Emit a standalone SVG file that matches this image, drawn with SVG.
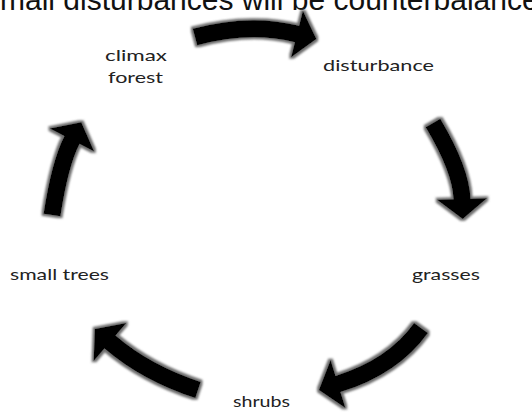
<svg xmlns="http://www.w3.org/2000/svg" width="532" height="418" viewBox="0 0 532 418">
<style>
.lbl{font-family:Lato,"Open Sans","Liberation Sans",sans-serif;font-size:16px;fill:#222}
.title{font-family:"Liberation Sans",Arial,sans-serif;font-size:30px;fill:#111}
.shaft{fill:none;stroke:#000;stroke-width:17;stroke-linecap:butt}
.head{fill:#000}
</style>
<defs>
<filter id="halo" x="-20%" y="-20%" width="140%" height="140%">
<feMorphology in="SourceAlpha" operator="dilate" radius="2" result="d"/>
<feGaussianBlur in="d" stdDeviation="1" result="b"/>
<feFlood flood-color="#6e6e6e"/>
<feComposite in2="b" operator="in" result="g"/>
<feMerge><feMergeNode in="g"/><feMergeNode in="SourceGraphic"/></feMerge>
</filter>
</defs>
<rect width="532" height="418" fill="#fff"/>
<text id="title" class="title" x="-15" y="10">small disturbances will be counterbalanced</text>
<g id="connectors" filter="url(#halo)">
<g id="a1"><path class="shaft" d="M195,37 Q250,22 297,34 L299.9,34.7"/><polygon class="head" points="302.9,10.7 316.4,38.9 291.1,57.3"/></g>
<g id="a2"><path class="shaft" d="M433,123 Q461,170 462,199 L462.1,202"/><polygon class="head" points="487,198.2 462.7,219 437,199.8"/></g>
<g id="a3"><path class="shaft" d="M421,328 Q393,367 338,384 L335.1,384.9"/><polygon class="head" points="345.4,407.9 318.9,389.9 330.6,360.1"/></g>
<g id="a4"><path class="shaft" d="M198,390 Q146,373 110,342 L107.7,340"/><polygon class="head" points="126.3,323 94.8,328.9 93.7,361"/></g>
<g id="a5"><path class="shaft" d="M52,215 Q60,163 72,140 L73.4,137.3"/><polygon class="head" points="94.2,151.6 81.3,122.3 49.8,128.4"/></g>
</g>
<g id="climax-forest"><text class="lbl" x="105" y="61" textLength="62" lengthAdjust="spacingAndGlyphs">climax</text><text class="lbl" x="108" y="83" textLength="55" lengthAdjust="spacingAndGlyphs">forest</text></g>
<g id="disturbance"><text class="lbl" x="323" y="71" textLength="111" lengthAdjust="spacingAndGlyphs">disturbance</text></g>
<g id="grasses"><text class="lbl" x="412" y="280" textLength="68" lengthAdjust="spacingAndGlyphs">grasses</text></g>
<g id="shrubs"><text class="lbl" x="233" y="407" textLength="57" lengthAdjust="spacingAndGlyphs">shrubs</text></g>
<g id="small-trees"><text class="lbl" x="10" y="280" textLength="99" lengthAdjust="spacingAndGlyphs">small trees</text></g>
</svg>
